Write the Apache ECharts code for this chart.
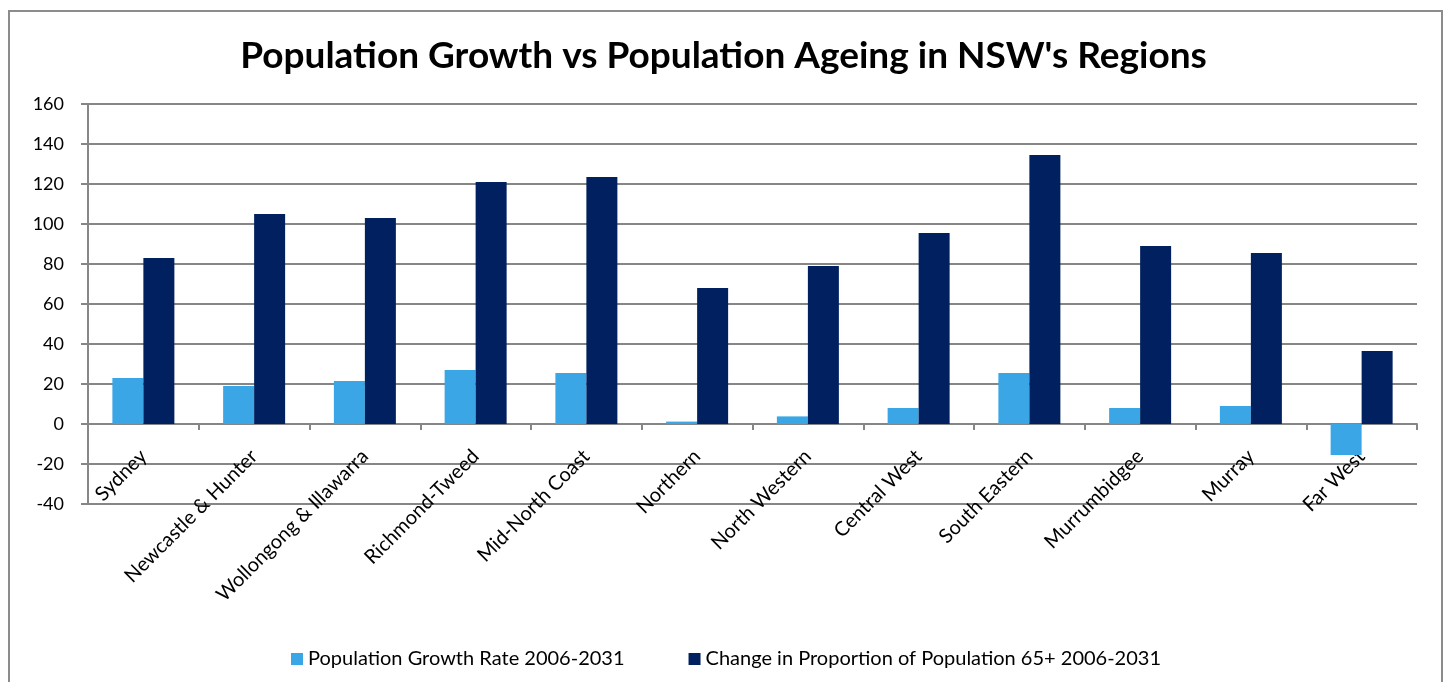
<!DOCTYPE html>
<html>
<head>
<meta charset="utf-8">
<script src="https://cdn.jsdelivr.net/npm/echarts@6/dist/echarts.min.js"></script>
<style>
html,body{margin:0;padding:0;background:#fff;}
#chart{width:1447px;height:682px;}
</style>
</head>
<body>
<div id="chart"></div>
<script>
const categories = ["Sydney","Newcastle & Hunter","Wollongong & Illawarra","Richmond-Tweed","Mid-North Coast","Northern","North Western","Central West","South Eastern","Murrumbidgee","Murray","Far West"];
const growthRate = [23, 19, 21.5, 27, 25.5, 1.2, 3.8, 8, 25.5, 8, 9, -15.5];
const ageingChange = [83, 105, 103, 121, 123.5, 68, 79, 95.5, 134.5, 89, 85.5, 36.5];
const seriesNames = ["Population Growth Rate 2006-2031", "Change in Proportion of Population 65+ 2006-2031"];
const titleText = "Population Growth vs Population Ageing in NSW's Regions";
const yMin = -40, yMax = 160, yStep = 20;

const chart = echarts.init(document.getElementById('chart'), null, {renderer:'canvas'});
const font = 'Lato, "Open Sans", sans-serif';
chart.setOption({
  animation: false,
  backgroundColor: '#ffffff',
  graphic: [{
    type: 'rect', shape: {x: 9, y: 11, width: 1433, height: 700},
    style: {fill: 'none', stroke: '#8c8c8c', lineWidth: 2}, silent: true, z: -1
  }],
  title: {
    text: titleText, left: 'center', top: 33,
    textStyle: {fontFamily: font, fontWeight: 'bold', fontSize: 37, color: '#000'}
  },
  legend: {
    data: seriesNames, top: 644, left: 286, itemWidth: 12, itemHeight: 12, itemGap: 64,
    icon: 'rect',
    textStyle: {fontFamily: font, fontSize: 20, color: '#000'}
  },
  grid: {left: 88, right: 30, top: 104, bottom: 178, containLabel: false},
  xAxis: {
    type: 'category', data: categories,
    axisLine: {onZero: true, lineStyle: {color: '#868686', width: 2}},
    axisTick: {show: true, length: 6, lineStyle: {color: '#868686', width: 2}},
    axisLabel: {rotate: 45, margin: -51, interval: 0, fontFamily: font, fontSize: 20, color: '#000'},
    splitLine: {show: false}
  },
  yAxis: {
    type: 'value', min: yMin, max: yMax, interval: yStep,
    axisLine: {show: true, lineStyle: {color: '#868686', width: 2}},
    axisTick: {show: true, length: 7, lineStyle: {color: '#868686', width: 2}},
    axisLabel: {margin: 24, fontFamily: font, fontSize: 18, color: '#000'},
    splitLine: {show: true, lineStyle: {color: '#868686', width: 2}}
  },
  series: [
    {name: seriesNames[0], type: 'bar', data: growthRate, barWidth: 31, barGap: '0%',
     itemStyle: {color: '#3aa6e6'}},
    {name: seriesNames[1], type: 'bar', data: ageingChange, barWidth: 31, barGap: '0%',
     itemStyle: {color: '#00205f'}}
  ]
});
</script>
</body>
</html>
